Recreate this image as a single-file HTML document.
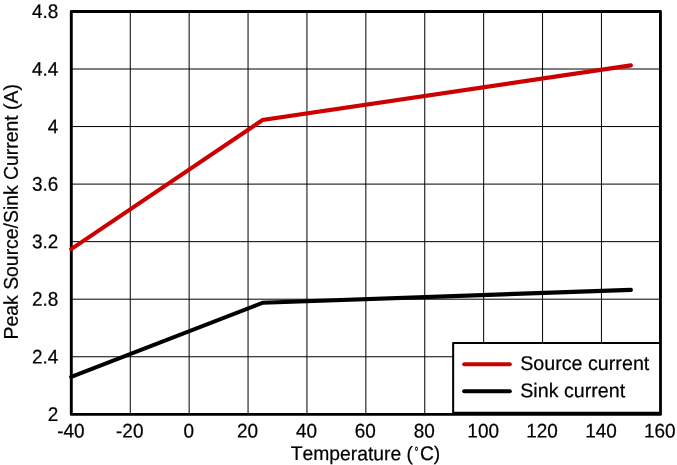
<!DOCTYPE html>
<html lang="en">
<head>
<meta charset="utf-8">
<title>Peak Source/Sink Current vs Temperature</title>
<style>
html,body{margin:0;padding:0;background:#fff;}
body{width:677px;height:465px;overflow:hidden;}
svg{display:block;}
text{font-family:"Liberation Sans",Arial,Helvetica,sans-serif;fill:#000;stroke:#000;stroke-width:0.22px;font-kerning:none;}
</style>
</head>
<body>
<svg width="677" height="465" viewBox="0 0 677 465">
<rect x="0" y="0" width="677" height="465" fill="#fff"/>
<g stroke="#000" stroke-width="1" fill="none">
<line x1="130.25" y1="11.45" x2="130.25" y2="414.3"/>
<line x1="189.15" y1="11.45" x2="189.15" y2="414.3"/>
<line x1="248.05" y1="11.45" x2="248.05" y2="414.3"/>
<line x1="306.95" y1="11.45" x2="306.95" y2="414.3"/>
<line x1="365.85" y1="11.45" x2="365.85" y2="414.3"/>
<line x1="424.75" y1="11.45" x2="424.75" y2="414.3"/>
<line x1="483.65" y1="11.45" x2="483.65" y2="414.3"/>
<line x1="542.55" y1="11.45" x2="542.55" y2="414.3"/>
<line x1="601.45" y1="11.45" x2="601.45" y2="414.3"/>
<line x1="71.35" y1="69.00" x2="660.35" y2="69.00"/>
<line x1="71.35" y1="126.55" x2="660.35" y2="126.55"/>
<line x1="71.35" y1="184.10" x2="660.35" y2="184.10"/>
<line x1="71.35" y1="241.65" x2="660.35" y2="241.65"/>
<line x1="71.35" y1="299.20" x2="660.35" y2="299.20"/>
<line x1="71.35" y1="356.75" x2="660.35" y2="356.75"/>
</g>
<rect x="71.3" y="11.45" width="589.15" height="402.95" fill="none" stroke="#000" stroke-width="2.9" stroke-linejoin="round"/>
<polyline points="71.2,249.1 262.6,120.0 630.9,65.4" fill="none" stroke="#cc0000" stroke-width="4.1" stroke-linecap="round" stroke-linejoin="miter"/>
<polyline points="71.2,376.8 262.9,302.7 630.9,289.9" fill="none" stroke="#000" stroke-width="4.1" stroke-linecap="round" stroke-linejoin="miter"/>
<rect x="453.15" y="343.05" width="206.95" height="69.65" fill="#fff" stroke="#000" stroke-width="2" stroke-linejoin="round"/>
<line x1="464.2" y1="364.3" x2="509.8" y2="364.3" stroke="#cc0000" stroke-width="4.05" stroke-linecap="round"/>
<line x1="464.2" y1="391.3" x2="509.8" y2="391.3" stroke="#000" stroke-width="4.05" stroke-linecap="round"/>
<text transform="translate(520.20,369.90) rotate(0.03) scale(1.0000,1.0100)" font-size="19.7">Source current</text>
<text transform="translate(520.20,397.30) rotate(0.03) scale(1.0000,1.0100)" font-size="19.7">Sink current</text>
<text transform="translate(58.40,18.10) rotate(0.03) scale(0.9970,1.0400)" font-size="19" text-anchor="end">4.8</text>
<text transform="translate(58.40,75.65) rotate(0.03) scale(0.9970,1.0400)" font-size="19" text-anchor="end">4.4</text>
<text transform="translate(58.40,133.20) rotate(0.03) scale(0.9970,1.0400)" font-size="19" text-anchor="end">4</text>
<text transform="translate(58.40,190.75) rotate(0.03) scale(0.9970,1.0400)" font-size="19" text-anchor="end">3.6</text>
<text transform="translate(58.40,248.30) rotate(0.03) scale(0.9970,1.0400)" font-size="19" text-anchor="end">3.2</text>
<text transform="translate(58.40,305.85) rotate(0.03) scale(0.9970,1.0400)" font-size="19" text-anchor="end">2.8</text>
<text transform="translate(58.40,363.40) rotate(0.03) scale(0.9970,1.0400)" font-size="19" text-anchor="end">2.4</text>
<text transform="translate(58.40,420.95) rotate(0.03) scale(0.9970,1.0400)" font-size="19" text-anchor="end">2</text>
<text transform="translate(70.85,437.45) rotate(0.03) scale(0.9970,1.0400)" font-size="19" text-anchor="middle">-40</text>
<text transform="translate(129.75,437.45) rotate(0.03) scale(0.9970,1.0400)" font-size="19" text-anchor="middle">-20</text>
<text transform="translate(188.65,437.45) rotate(0.03) scale(0.9970,1.0400)" font-size="19" text-anchor="middle">0</text>
<text transform="translate(247.55,437.45) rotate(0.03) scale(0.9970,1.0400)" font-size="19" text-anchor="middle">20</text>
<text transform="translate(306.45,437.45) rotate(0.03) scale(0.9970,1.0400)" font-size="19" text-anchor="middle">40</text>
<text transform="translate(365.35,437.45) rotate(0.03) scale(0.9970,1.0400)" font-size="19" text-anchor="middle">60</text>
<text transform="translate(424.25,437.45) rotate(0.03) scale(0.9970,1.0400)" font-size="19" text-anchor="middle">80</text>
<text transform="translate(483.15,437.45) rotate(0.03) scale(0.9970,1.0400)" font-size="19" text-anchor="middle">100</text>
<text transform="translate(542.05,437.45) rotate(0.03) scale(0.9970,1.0400)" font-size="19" text-anchor="middle">120</text>
<text transform="translate(600.95,437.45) rotate(0.03) scale(0.9970,1.0400)" font-size="19" text-anchor="middle">140</text>
<text transform="translate(659.85,437.45) rotate(0.03) scale(0.9970,1.0400)" font-size="19" text-anchor="middle">160</text>
<text transform="translate(290.75,460.10) rotate(0.03) scale(1.0000,1.0200)" font-size="19.3">Temperature (</text>
<text transform="translate(414.70,460.80) rotate(0.03) scale(0.7400,1.1100)" font-size="16">˚</text>
<text transform="translate(419.90,460.10) rotate(0.03) scale(1.0000,1.0200)" font-size="19.3">C)</text>
<text transform="translate(17.70,211.75) rotate(-89.97) scale(1.0000,1.0250)" font-size="19.4" text-anchor="middle">Peak Source/Sink Current (A)</text>
</svg>
</body>
</html>
